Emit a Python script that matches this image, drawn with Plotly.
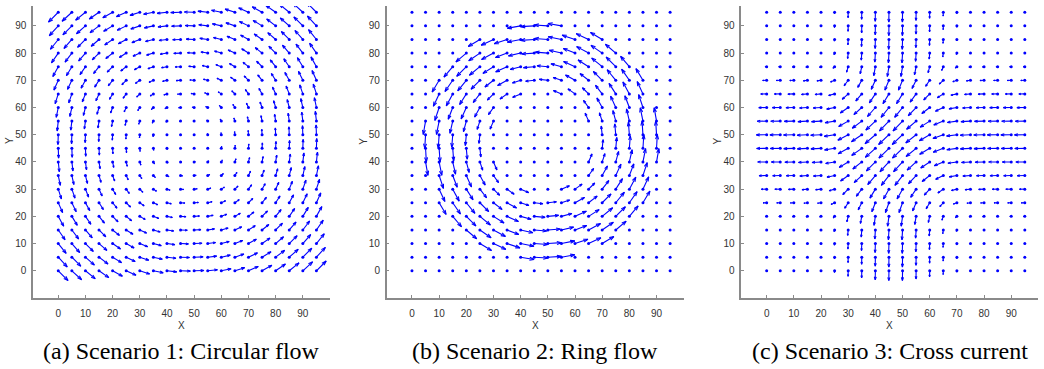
import math
import plotly.graph_objects as go

# ---------------- data ----------------
GRID = [0, 5, 10, 15, 20, 25, 30, 35, 40, 45, 50, 55, 60, 65, 70, 75, 80, 85, 90, 95]
X_TICKS = [0, 10, 20, 30, 40, 50, 60, 70, 80, 90]
Y_TICKS = [0, 10, 20, 30, 40, 50, 60, 70, 80, 90]

# Scenario 1 (circular flow): horizontal component per row (by y), vertical component per column (by x)
P1_U_BY_Y = [3.6, 3.3, 2.9, 2.5, 2.0, 1.6, 1.15, 0.75, 0.4, 0.12,
             -0.12, -0.4, -0.75, -1.15, -1.6, -2.0, -2.5, -2.9, -3.3, -3.6]
P1_V_BY_X = [-3.6, -3.3, -2.9, -2.5, -2.0, -1.6, -1.15, -0.75, -0.4, -0.12,
             0.12, 0.4, 0.75, 1.15, 1.6, 2.0, 2.5, 2.9, 3.3, 3.6]

# Scenario 2 (ring flow): ring centre, radius bands and arrow length in each band
P2_CENTER = [47.5, 47.5]
P2_RING_EDGES = [19, 25, 30, 35, 44]
P2_RING_SPEED = [3.2, 4.0, 4.6, 5.0]

# Scenario 3 (cross current)
P3_U_BY_Y = [-0.05, -0.05, -0.1, -0.2, -0.5, -1.3, -2.0, -2.8, -3.3, -3.7,
             -3.8, -3.5, -2.9, -2.2, -1.5, -0.6, -0.2, -0.1, -0.05, -0.05]
P3_V_BY_X = [-0.05, -0.05, -0.1, -0.2, -0.2, -0.6, -2.0, -2.6, -3.3, -3.6,
             -3.6, -3.0, -2.2, -1.4, -0.5, -0.2, -0.1, -0.05, -0.05, -0.05]

CAPTIONS = ["(a) Scenario 1: Circular flow", "(b) Scenario 2: Ring flow",
            "(c) Scenario 3: Cross current"]

# ---------------- build vectors ----------------
def separable(u_by_y, v_by_x):
    out = []
    for j, y in enumerate(GRID):
        for i, x in enumerate(GRID):
            out.append((x, y, u_by_y[j], v_by_x[i]))
    return out


def ring():
    out = []
    cx, cy = P2_CENTER
    for y in GRID:
        for x in GRID:
            dx, dy = x - cx, y - cy
            r = math.hypot(dx, dy)
            s = 0.0
            for k in range(len(P2_RING_SPEED)):
                if P2_RING_EDGES[k] <= r < P2_RING_EDGES[k + 1]:
                    s = P2_RING_SPEED[k]
            if r > 0 and s > 0:
                out.append((x, y, -dy / r * s, dx / r * s))
            else:
                out.append((x, y, 0.0, 0.0))
    return out


FIELDS = [separable(P1_U_BY_Y, P1_V_BY_X), ring(), separable(P3_U_BY_Y, P3_V_BY_X)]

W, H = 1044, 369
X_RANGE = [-9.3, 100]
Y_RANGE = [-10, 97.3]
PANEL_LEFT = [33, 386.7, 741.4]
PANEL_W = 297
Y_TOP, Y_BOT = 6, 298
BLUE = "rgb(0,0,255)"
AXC = "#8a8a8a"

fig = go.Figure()


def arrow_xy(vecs):
    lx, ly = [], []
    a, b = 0.33, 0.33
    for x, y, u, v in vecs:
        if math.hypot(u, v) < 0.15:
            continue
        tx, ty = x + u, y + v
        lx += [x, tx, None]
        ly += [y, ty, None]
        lx += [tx - a * (u + b * v), tx, tx - a * (u - b * v), None]
        ly += [ty - a * (v - b * u), ty, ty - a * (v + b * u), None]
    return lx, ly


for p, vecs in enumerate(FIELDS):
    xa = "x" if p == 0 else f"x{p+1}"
    ya = "y" if p == 0 else f"y{p+1}"
    lx, ly = arrow_xy(vecs)
    fig.add_trace(go.Scatter(x=lx, y=ly, mode="lines", xaxis=xa, yaxis=ya,
                             line=dict(color=BLUE, width=1.1), hoverinfo="skip",
                             showlegend=False))
    fig.add_trace(go.Scatter(x=[v[0] for v in vecs], y=[v[1] for v in vecs], mode="markers",
                             xaxis=xa, yaxis=ya, marker=dict(color=BLUE, size=3),
                             hoverinfo="skip", showlegend=False))

layout = dict(width=W, height=H, margin=dict(l=0, r=0, t=0, b=0),
              paper_bgcolor="white", plot_bgcolor="white", showlegend=False)

tickfont = dict(family="Liberation Sans, Arial, sans-serif", size=10, color="#333333")
annotations = []
for p in range(3):
    sx = "" if p == 0 else str(p + 1)
    x0 = PANEL_LEFT[p]
    x1 = x0 + PANEL_W
    layout["xaxis" + sx] = dict(domain=[x0 / W, x1 / W], range=X_RANGE, anchor="y" + sx,
                                showline=True, linecolor=AXC, linewidth=1.5, mirror=False,
                                ticks="inside", ticklen=3, tickcolor=AXC, tickwidth=1,
                                tickvals=X_TICKS, showgrid=False, zeroline=False,
                                tickfont=tickfont, ticklabelstandoff=5, fixedrange=True)
    layout["yaxis" + sx] = dict(domain=[1 - Y_BOT / H, 1 - Y_TOP / H], range=Y_RANGE,
                                anchor="x" + sx,
                                showline=True, linecolor=AXC, linewidth=1.5, mirror=False,
                                ticks="inside", ticklen=3, tickcolor=AXC, tickwidth=1,
                                tickvals=Y_TICKS, showgrid=False, zeroline=False,
                                tickfont=tickfont, ticklabelstandoff=3, fixedrange=True)
    cxp = (x0 + x1) / 2
    annotations.append(dict(text="X", x=cxp / W, y=1 - 325 / H, xref="paper", yref="paper",
                            showarrow=False, xanchor="center", yanchor="middle",
                            font=dict(family="Liberation Sans, Arial, sans-serif", size=10,
                                      color="#333333")))
    annotations.append(dict(text="Y", x=(x0 - 24) / W, y=1 - 141 / H, xref="paper",
                            yref="paper", showarrow=False, textangle=-90,
                            xanchor="center", yanchor="middle",
                            font=dict(family="Liberation Sans, Arial, sans-serif", size=10,
                                      color="#333333")))
    annotations.append(dict(text=CAPTIONS[p], x=cxp / W, y=1 - 351 / H, xref="paper",
                            yref="paper", showarrow=False, xanchor="center",
                            yanchor="middle",
                            font=dict(family="Liberation Serif, serif", size=24,
                                      color="black")))
layout["annotations"] = annotations
fig.update_layout(**layout)
fig.write_html("out.html")
